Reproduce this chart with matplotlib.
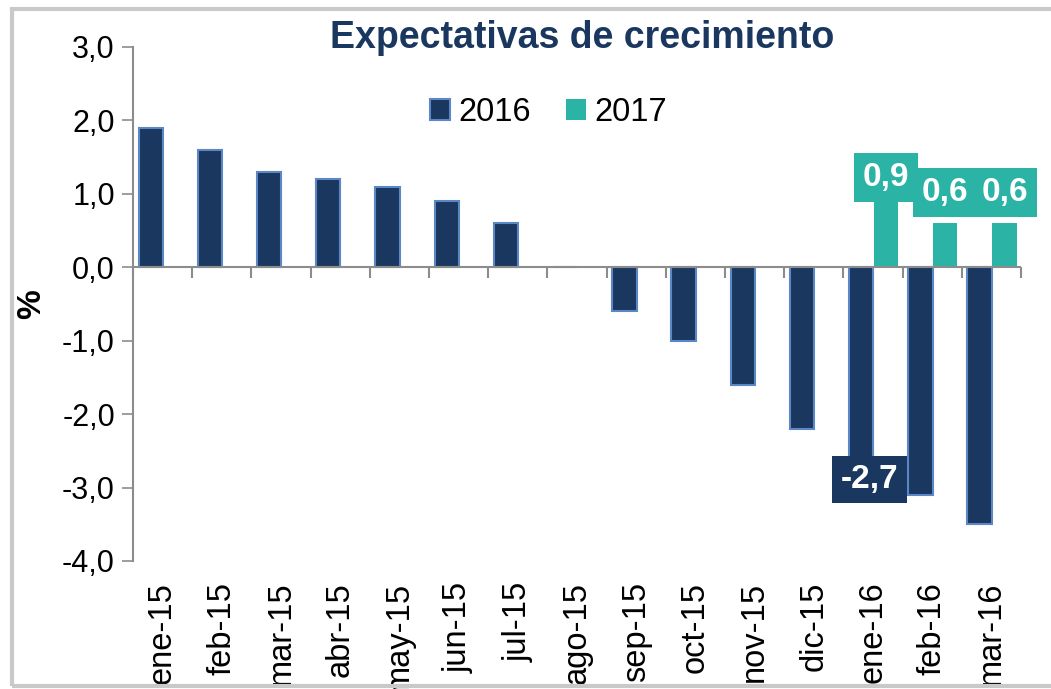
import matplotlib.pyplot as plt
import matplotlib.patches as mpatches
from matplotlib.ticker import FuncFormatter, FixedLocator
import numpy as np

plt.rcParams['font.family'] = ['Liberation Sans', 'DejaVu Sans']

months = ['ene-15', 'feb-15', 'mar-15', 'abr-15', 'may-15', 'jun-15', 'jul-15',
          'ago-15', 'sep-15', 'oct-15', 'nov-15', 'dic-15', 'ene-16', 'feb-16', 'mar-16']
exp2016 = [1.9, 1.6, 1.3, 1.2, 1.1, 0.9, 0.6, 0.0, -0.6, -1.0, -1.6, -2.2, -2.7, -3.1, -3.5]
exp2017 = [np.nan] * 12 + [0.9, 0.6, 0.6]

navy = '#1a3760'
edge = '#5b88c4'
teal = '#2bb3a5'
gray = '#8c8c8c'

fig = plt.figure(figsize=(10.51, 6.89), dpi=100)
fig.patches.append(mpatches.Rectangle((0.011, 0.005), 1.2, 0.982, transform=fig.transFigure,
                                      fill=False, edgecolor='#c9c9c9', linewidth=3))
ax = fig.add_axes([0.1265, 0.1858, 0.845, 0.746])

x = np.arange(len(months))
w = 0.41
ax.bar(x - 0.2, exp2016, w, color=navy, edgecolor=edge, linewidth=1.5, label='2016')
ax.bar(x + 0.22, exp2017, w, color=teal, edgecolor=teal, linewidth=0, label='2017')

ax.set_xlim(-0.5, len(months) - 0.5)
ax.set_ylim(-4, 3)
ax.yaxis.set_major_locator(FixedLocator(np.arange(-4, 3.1, 1)))
ax.yaxis.set_major_formatter(FuncFormatter(lambda v, p: ('%.1f' % v).replace('.', ',')))
ax.tick_params(axis='y', labelsize=22, length=8, color=gray, width=1.2, pad=5)

for s in ['top', 'right', 'bottom']:
    ax.spines[s].set_visible(False)
ax.spines['left'].set_color(gray)
ax.spines['left'].set_linewidth(1.5)

# month labels at bottom
ax.set_xticks(x)
ax.set_xticklabels(months, rotation=90, fontsize=23.5)
ax.tick_params(axis='x', length=0, pad=15)

# zero line with ticks at category boundaries
ax.axhline(0, color=gray, linewidth=1.5, zorder=3)
sec = ax.secondary_xaxis(4 / 7)
sec.set_xticks(np.arange(-0.5, len(months), 1))
sec.set_xticklabels([])
sec.xaxis.set_ticks_position('bottom')
sec.tick_params(axis='x', length=8, color=gray, width=1.5, direction='out')
for s in sec.spines.values():
    s.set_visible(False)

ax.set_ylabel('%', fontsize=24, fontweight='bold')
ax.yaxis.set_label_coords(-0.097, 0.5)

fig.text(0.554, 0.945, 'Expectativas de crecimiento', ha='center', va='center',
         fontsize=27, fontweight='bold', color=navy)

leg = ax.legend(loc='upper center', bbox_to_anchor=(0.468, 0.96), ncol=2, frameon=False,
                fontsize=23.5, handlelength=0.6, handleheight=0.6, columnspacing=1.1,
                handletextpad=0.25)

def fmt(v):
    return ('%.1f' % v).replace('.', ',')

# data labels
ax.annotate(fmt(exp2016[12]), (x[12] - 0.2, exp2016[12]), xytext=(6, -10),
            textcoords='offset points', ha='center', va='center', fontsize=24,
            fontweight='bold', color='white',
            bbox=dict(boxstyle='square,pad=0.25', facecolor=navy, edgecolor='none'), zorder=5)
for i, dy in zip([12, 13, 14], [17, 22, 22]):
    ax.annotate(fmt(exp2017[i]), (x[i] + 0.22, exp2017[i]), xytext=(0, dy),
                textcoords='offset points', ha='center', va='center', fontsize=24,
                fontweight='bold', color='white',
                bbox=dict(boxstyle='square,pad=0.27', facecolor=teal, edgecolor='none'), zorder=5)

fig.savefig('out.png', dpi=100)
